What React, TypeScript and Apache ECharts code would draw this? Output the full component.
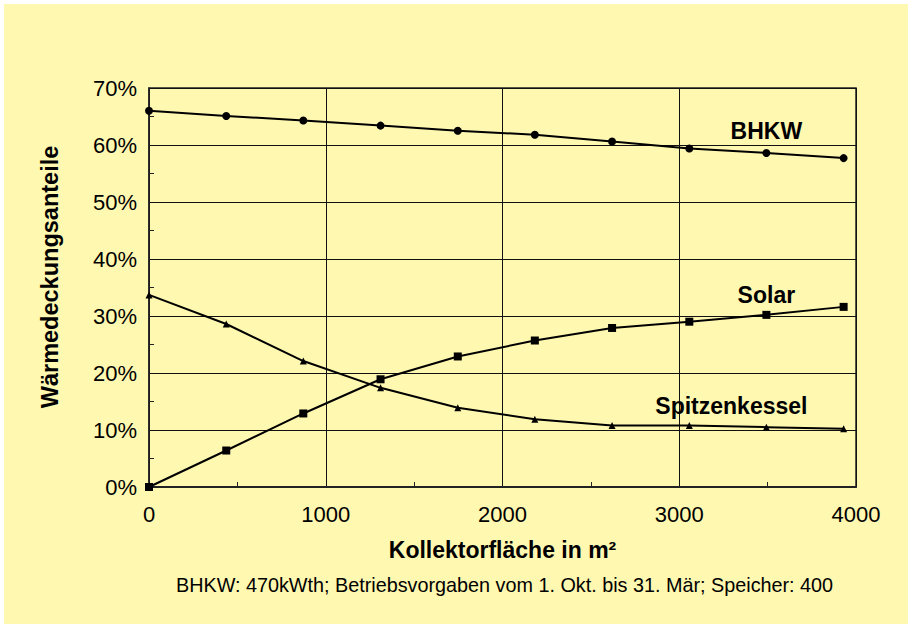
import React, { useEffect, useRef } from "react";
import * as echarts from "echarts";

const xValues = [0, 437, 873, 1310, 1747, 2183, 2620, 3057, 3493, 3930];
const bhkw = [66.0, 65.1, 64.3, 63.4, 62.5, 61.8, 60.6, 59.4, 58.6, 57.7];
const solar = [0, 6.4, 12.9, 18.9, 22.9, 25.7, 27.9, 29.0, 30.2, 31.6];
const spitzenkessel = [33.7, 28.6, 22.1, 17.4, 13.9, 11.9, 10.8, 10.8, 10.5, 10.2];
const xTicks = { min: 0, max: 4000, interval: 1000 };
const yTicks = { min: 0, max: 70, interval: 10 };
const xTitle = "Kollektorfläche in m²";
const yTitle = "Wärmedeckungsanteile";
const footnote = "BHKW: 470kWth; Betriebsvorgaben vom 1. Okt. bis 31. Mär; Speicher: 400";

const FONT = "'Liberation Sans', Arial, sans-serif";

function pairs(ys: number[], labelIdx: number, label: any) {
  return ys.map((y, i) =>
    i === labelIdx ? { value: [xValues[i], y], label } : [xValues[i], y]
  );
}

export default function App() {
  const ref = useRef<HTMLDivElement>(null);
  useEffect(() => {
    document.body.style.margin = "0";
    const chart = echarts.init(ref.current!, null, { renderer: "svg" });
    const lbl = (offset: number[], distance: number) => ({
      show: true,
      position: "top",
      distance,
      offset,
      formatter: "{a}",
      fontFamily: FONT,
      fontSize: 23,
      fontWeight: "bold",
      color: "#000",
    });
    const lineStyle = { color: "#000", width: 2 };
    chart.setOption({
      animation: false,
      backgroundColor: "#ffffff",
      graphic: [
        {
          type: "rect",
          left: 4,
          top: 4,
          shape: { width: 904, height: 620 },
          style: { fill: "#FFF8B1" },
          z: -10,
          silent: true,
        },
        {
          type: "text",
          left: 176,
          top: 575,
          style: {
            text: footnote,
            fontFamily: FONT,
            fontSize: 19.8,
            fill: "#000",
          },
        },
        {
          type: "text",
          x: 50,
          y: 277,
          rotation: Math.PI / 2,
          style: {
            text: yTitle,
            fontFamily: FONT,
            fontSize: 23.5,
            fontWeight: "bold",
            fill: "#000",
            align: "center",
            verticalAlign: "middle",
          },
        },
      ],
      grid: {
        left: 149,
        top: 88,
        width: 707,
        height: 399,
        show: true,
        borderColor: "#222",
        borderWidth: 1.5,
        backgroundColor: "transparent",
      },
      xAxis: {
        type: "value",
        ...xTicks,
        name: xTitle,
        nameLocation: "middle",
        nameGap: 51,
        nameTextStyle: { fontFamily: FONT, fontSize: 23, fontWeight: "bold", color: "#000" },
        axisLine: { show: true, lineStyle: { color: "#222", width: 2 } },
        axisTick: { show: false, inside: true },
        minorTick: { show: true, splitNumber: 2, length: 5, lineStyle: { color: "#222", width: 1 } },
        splitLine: { show: true, lineStyle: { color: "#111", width: 1 } },
        axisLabel: {
          fontFamily: FONT,
          fontSize: 22,
          color: "#000",
          margin: 16,
          formatter: (v: number) => String(v),
        },
      },
      yAxis: {
        type: "value",
        ...yTicks,
        axisLine: { show: true, lineStyle: { color: "#222", width: 1.5 } },
        axisTick: { show: false, inside: true },
        minorTick: { show: true, splitNumber: 2, length: 5, lineStyle: { color: "#222", width: 1 } },
        splitLine: { show: true, lineStyle: { color: "#111", width: 1 } },
        axisLabel: {
          fontFamily: FONT,
          fontSize: 22,
          color: "#000",
          margin: 12,
          formatter: "{value}%",
        },
      },
      series: [
        {
          name: "BHKW",
          type: "line",
          data: pairs(bhkw, 8, lbl([0, 0], 6)),
          symbol: "circle",
          symbolSize: 8,
          itemStyle: { color: "#000" },
          lineStyle,
        },
        {
          name: "Solar",
          type: "line",
          data: pairs(solar, 8, lbl([0, 0], 4)),
          symbol: "rect",
          symbolSize: 8,
          itemStyle: { color: "#000" },
          lineStyle,
        },
        {
          name: "Spitzenkessel",
          type: "line",
          data: pairs(spitzenkessel, 8, lbl([-35, 0], 6)),
          symbol: "triangle",
          symbolSize: 7,
          itemStyle: { color: "#000" },
          lineStyle,
        },
      ],
    });
    return () => chart.dispose();
  }, []);
  return <div ref={ref} style={{ width: 908, height: 624 }} />;
}
